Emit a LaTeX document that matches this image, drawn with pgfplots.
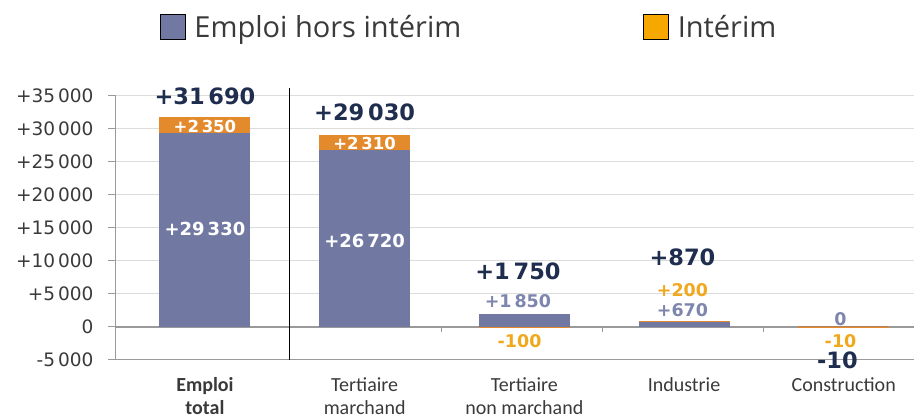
\documentclass[border=0pt]{standalone}
\usepackage{pgfplots}
\pgfplotsset{compat=1.18}
\usepackage{fontspec}
\setmainfont{DejaVu Sans}
\newfontfamily\catfont{Carlito}
\newfontfamily\legfont{Open Sans}
\definecolor{barblue}{HTML}{7179A3}
\definecolor{barorange}{HTML}{E38B2C}
\definecolor{legorange}{HTML}{F6A800}
\definecolor{navy}{HTML}{1F2D4E}
\definecolor{lblblue}{HTML}{7E86AE}
\definecolor{lblorange}{HTML}{F0A81E}
\definecolor{gridgrey}{HTML}{DCDCDC}
\definecolor{axisgrey}{HTML}{9A9A9A}
\definecolor{txtgrey}{HTML}{3A3A3A}
\begin{document}
\begin{tikzpicture}
\begin{axis}[
  scale only axis, width=798pt, height=264pt,
  xmin=-0.557, xmax=4.44, ymin=-5000, ymax=35000,
  scaled y ticks=false,
  axis y line*=left, axis x line*=bottom,
  axis line style={axisgrey, line width=1pt},
  ytick={-5000,0,5000,10000,15000,20000,25000,30000,35000},
  yticklabels={-5\,000,0,+5\,000,+10\,000,+15\,000,+20\,000,+25\,000,+30\,000,+35\,000},
  ymajorgrids, grid style={gridgrey, line width=1pt},
  ytick style={axisgrey, line width=1pt}, major tick length=8pt, tick align=outside,
  xtick={0,1,2,3,4}, xtick style={draw=none},
  xticklabels={{\bfseries Emploi\\\bfseries total},{Tertiaire\\marchand},{Tertiaire\\non marchand},{Industrie},{Construction}},
  xticklabel style={font=\catfont\fontsize{20}{23}\selectfont, align=center, text=txtgrey, anchor=north, yshift=-6pt},
  yticklabel style={font=\fontsize{18.5}{20}\selectfont, text=txtgrey, xshift=-11pt},
  clip=false,
  legend image code/.code={\fill[#1] (0pt,-12.5pt) rectangle (25pt,12.5pt);},
  legend columns=2,
  legend style={draw=none, fill=none, inner sep=0pt, at={(0.055,1)}, anchor=west, yshift=69pt,
    font=\legfont\fontsize{29}{32}\selectfont, text=txtgrey,
    /tikz/every even column/.append style={column sep=180pt},
    /tikz/every odd column/.append style={column sep=7pt}},
]
% zero line
\addplot[axisgrey, line width=1.5pt, forget plot] coordinates {(-0.557,0) (4.44,0)};
\addplot[axisgrey, line width=1pt, forget plot] coordinates {(1.48,0) (1.48,-750)};
\addplot[axisgrey, line width=1pt, forget plot] coordinates {(2.49,0) (2.49,-750)};
\addplot[axisgrey, line width=1pt, forget plot] coordinates {(3.5,0) (3.5,-750)};
% interim (drawn first, top = total)
\addplot[ybar, bar width=90pt, bar shift=0pt, fill=barorange, draw=barorange, line width=1pt, forget plot]
  coordinates {(0,31690) (1,29030) (2,-100) (3,870) (4,-10)};
% emploi hors interim
\addplot[ybar, bar width=90pt, bar shift=0pt, fill=barblue, draw=barblue, line width=1pt, forget plot]
  coordinates {(0,29330) (1,26720) (2,1850) (3,670) (4,0)};
% separator
\addplot[black, line width=1.2pt, forget plot] coordinates {(0.53,-5000) (0.53,36200)};
\addlegendimage{fill=barblue}
\addlegendentry{Emploi hors intérim}
\addlegendimage{fill=legorange}
\addlegendentry{Intérim}
% labels
\begin{scope}[every node/.style={font=\bfseries\fontsize{22.5}{23}\selectfont, text=navy, inner sep=0pt, text height=0.73em, text depth=0pt, yshift=-4pt}]
\node at (axis cs:0,34850) {+31\,690};
\node at (axis cs:1,32400) {+29\,030};
\node at (axis cs:1.96,8330) {+1\,750};
\node at (axis cs:2.99,10450) {+870};
\node at (axis cs:3.96,-5150) {-10};
\end{scope}
\begin{scope}[every node/.style={font=\bfseries\fontsize{16.5}{17}\selectfont, text=white, inner sep=0pt, text height=0.73em, text depth=0pt, yshift=-3pt}]
\node at (axis cs:0,30500) {+2\,350};
\node at (axis cs:1,27875) {+2\,310};
\end{scope}
\begin{scope}[every node/.style={font=\bfseries\fontsize{18}{18}\selectfont, text=white, inner sep=0pt, text height=0.73em, text depth=0pt, yshift=-4pt}]
\node at (axis cs:0,15000) {+29\,330};
\node at (axis cs:1,13180) {+26\,720};
\end{scope}
\begin{scope}[every node/.style={font=\bfseries\fontsize{17.5}{18}\selectfont, inner sep=0pt, text height=0.73em, text depth=0pt, yshift=-4pt}]
\node[text=lblblue] at (axis cs:1.96,4090) {+1\,850};
\node[text=lblorange] at (axis cs:1.97,-1970) {-100};
\node[text=lblorange] at (axis cs:2.99,5760) {+200};
\node[text=lblblue] at (axis cs:2.99,2730) {+670};
\node[text=lblblue] at (axis cs:3.98,1360) {0};
\node[text=lblorange] at (axis cs:3.98,-2000) {-10};
\end{scope}
\end{axis}
\pgfresetboundingbox
\path[use as bounding box] ([xshift=-116pt,yshift=-59pt]current axis.south west) rectangle ([yshift=96pt]current axis.north east);
\end{tikzpicture}
\end{document}
